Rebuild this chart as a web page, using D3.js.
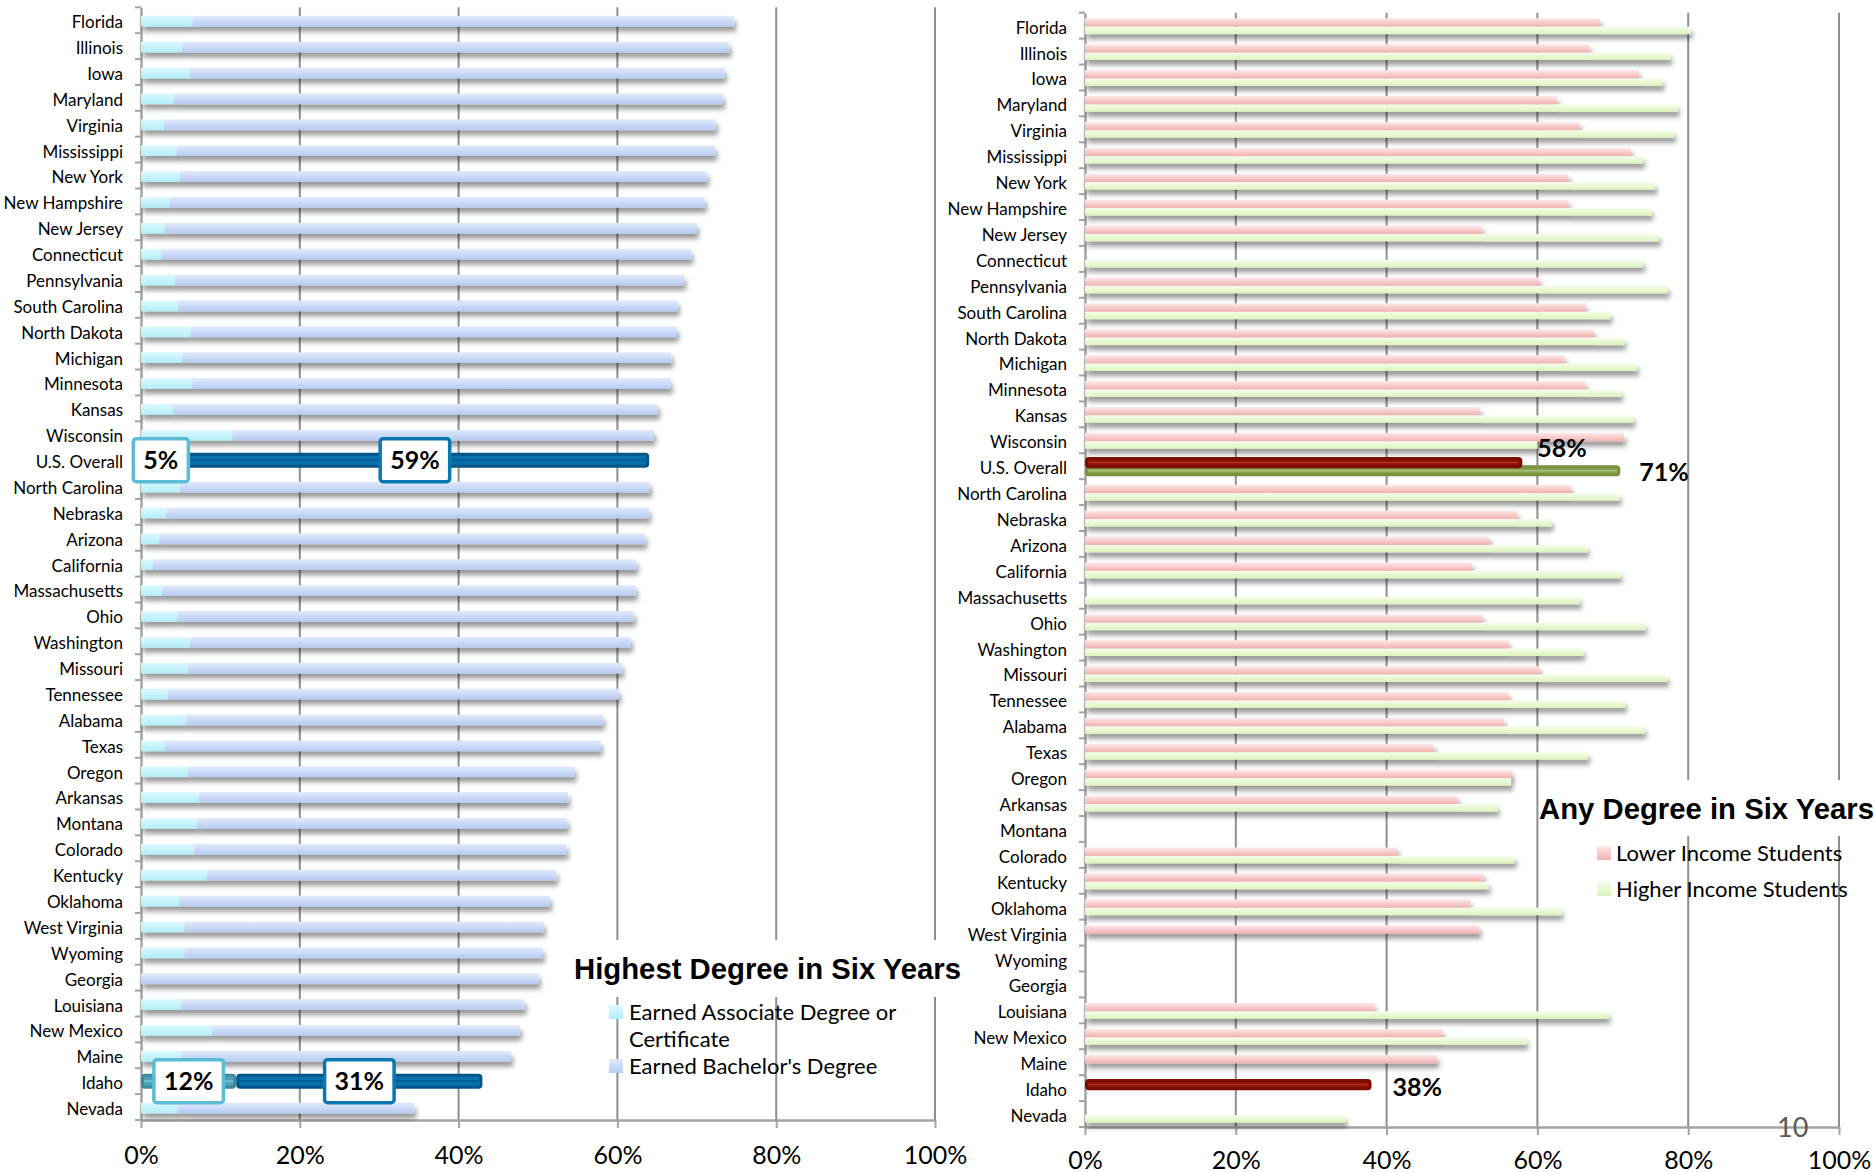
<!DOCTYPE html>
<html>
<head>
<meta charset="utf-8">
<script src="https://cdn.jsdelivr.net/npm/d3@7"></script>
<style>
  html, body { margin: 0; padding: 0; background: #fff; }
  svg { display: block; }
  svg text { font-family: Lato, "Open Sans", sans-serif; }
  svg text.title { font-family: "Liberation Sans", Arial, sans-serif; font-weight: bold; }
</style>
</head>
<body>
<svg id="chart" width="1874" height="1173"></svg>
<script>
// States in display order (top to bottom)
const states = [
  "Florida", "Illinois", "Iowa", "Maryland", "Virginia", "Mississippi", "New York",
  "New Hampshire", "New Jersey", "Connecticut", "Pennsylvania", "South Carolina",
  "North Dakota", "Michigan", "Minnesota", "Kansas", "Wisconsin", "U.S. Overall",
  "North Carolina", "Nebraska", "Arizona", "California", "Massachusetts", "Ohio",
  "Washington", "Missouri", "Tennessee", "Alabama", "Texas", "Oregon", "Arkansas",
  "Montana", "Colorado", "Kentucky", "Oklahoma", "West Virginia", "Wyoming", "Georgia",
  "Louisiana", "New Mexico", "Maine", "Idaho", "Nevada"
];

// Highest degree in six years (percent of students)
const associateShare = [
  6.5, 5.2, 6.2, 4.1, 2.9, 4.5, 4.9, 3.6, 3.0, 2.6, 4.3, 4.7, 6.3, 5.2, 6.5, 4.1, 11.5, 5,
  4.9, 3.2, 2.3, 1.5, 2.7, 4.6, 6.2, 5.9, 3.4, 5.7, 3.0, 5.9, 7.3, 7.1, 6.7, 8.3, 4.8,
  5.5, 5.5, 0, 5.1, 9.0, 5.1, 12, 4.6
];
const bachelorShare = [
  68.2, 68.9, 67.3, 69.2, 69.5, 67.8, 66.4, 67.4, 67.0, 66.7, 64.1, 62.9, 61.2, 61.6,
  60.2, 61.0, 53.1, 59, 59.2, 60.8, 61.2, 60.9, 59.6, 57.5, 55.5, 54.7, 56.8, 52.5, 54.9,
  48.7, 46.5, 46.6, 46.9, 44.0, 46.7, 45.2, 45.1, 50.1, 43.2, 38.7, 41.5, 31, 29.8
];

// Any degree in six years by income (null = not reported)
const lowerIncomeShare = [
  68.3, 66.9, 73.5, 62.6, 65.6, 72.4, 64.1, 64.1, 52.7, null, 60.3, 66.4, 67.5, 63.6,
  66.4, 52.4, 71.5, 58, 64.4, 57.3, 53.7, 51.3, null, 52.7, 56.2, 60.3, 56.2, 55.6, 46.3,
  56.6, 49.4, null, 41.5, 52.9, 51.1, 52.3, null, null, 38.4, 47.4, 46.7, 38, null
];
const higherIncomeShare = [
  80.3, 77.6, 76.6, 78.6, 78.1, 74.0, 75.6, 75.1, 76.1, 74.0, 77.3, 69.7, 71.5, 73.2,
  71.1, 72.7, 60.0, 71, 70.9, 61.9, 66.6, 71.0, 65.6, 74.3, 66.1, 77.2, 71.6, 74.2, 66.7,
  56.5, 54.7, null, 57.0, 53.5, 63.2, null, null, null, 69.4, 58.5, null, null, 34.5
];

const xTickValues = [0, 20, 40, 60, 80, 100];
const highlightedRows = ["U.S. Overall", "Idaho"];

const degreeTitle = "Highest Degree in Six Years";
const degreeLegend = [["Earned Associate Degree or", "Certificate"], ["Earned Bachelor's Degree"]];
const incomeTitle = "Any Degree in Six Years";
const incomeLegend = ["Lower Income Students", "Higher Income Students"];
const pageNumber = "10";

const svg = d3.select("#chart");
const defs = svg.append("defs");

function vGrad(id, top, bottom) {
  const g = defs.append("linearGradient").attr("id", id)
    .attr("x1", 0).attr("y1", 0).attr("x2", 0).attr("y2", 1);
  g.append("stop").attr("offset", "0%").attr("stop-color", top);
  g.append("stop").attr("offset", "100%").attr("stop-color", bottom);
}
vGrad("gAssoc", "#dcf9fe", "#b2edf8");
vGrad("gBach", "#e1eafb", "#b5cbf2");
vGrad("gLow", "#fde9e9", "#f2afaf");
vGrad("gHigh", "#f5fdea", "#dbf4bc");

const shadow = defs.append("filter").attr("id", "shadow")
  .attr("x", "-5%").attr("y", "-60%").attr("width", "115%").attr("height", "280%");
shadow.append("feDropShadow").attr("dx", 2).attr("dy", 5).attr("stdDeviation", 2.5)
  .attr("flood-color", "#000").attr("flood-opacity", 0.4);

const AXIS = "#a3a3a3", GRID = "#8e8e8e";

function panel(cfg) {
  const x = d3.scaleLinear().domain([0, 100]).range([cfg.x0, cfg.x1]);
  const y = d3.scaleBand().domain(states).range([cfg.yTop, cfg.yBot]);
  const g = svg.append("g");

  g.append("g").selectAll("line")
    .data(xTickValues.filter(v => v > 0)).join("line")
    .attr("x1", d => x(d)).attr("x2", d => x(d))
    .attr("y1", cfg.yTop).attr("y2", cfg.yBot)
    .attr("stroke", GRID).attr("stroke-width", 2);

  const xa = g.append("g").attr("transform", `translate(0,${cfg.yBot})`)
    .call(d3.axisBottom(x).tickValues(xTickValues).tickFormat(d => d + "%")
      .tickSize(8).tickSizeOuter(0).tickPadding(cfg.tickPad));
  xa.select(".domain").attr("stroke", AXIS).attr("stroke-width", 2.5);
  xa.selectAll(".tick line").attr("stroke", AXIS).attr("stroke-width", 2);
  xa.selectAll(".tick text").attr("font-size", 25).attr("fill", "#000");

  const ya = g.append("g").attr("transform", `translate(${cfg.x0},0)`)
    .call(d3.axisLeft(y).tickSize(0).tickSizeOuter(0).tickPadding(18));
  ya.select(".domain").attr("stroke", AXIS).attr("stroke-width", 2.5);
  ya.selectAll(".tick text").attr("font-size", 17).attr("fill", "#000").attr("y", 2.5);

  g.append("g").selectAll("line")
    .data(states.map(s => y(s)).concat([cfg.yBot])).join("line")
    .attr("x1", cfg.x0 - 6).attr("x2", cfg.x0)
    .attr("y1", d => d).attr("y2", d => d)
    .attr("stroke", AXIS).attr("stroke-width", 2);

  return { x, y, g };
}

// ---------- Left panel: highest degree ----------
const L = panel({ x0: 141, x1: 935, yTop: 7.3, yBot: 1120, tickPad: 18 });
const lbw = L.y.bandwidth();
const degreeRows = states.map((s, i) => ({ s, a: associateShare[i], b: bachelorShare[i] }));

const lBars = L.g.append("g");
degreeRows.filter(d => !highlightedRows.includes(d.s)).forEach(d => {
  const cy = L.y(d.s) + lbw / 2 + 1;
  const row = lBars.append("g").attr("filter", "url(#shadow)");
  if (d.a > 0) row.append("rect")
    .attr("x", L.x(0)).attr("width", L.x(d.a) - L.x(0))
    .attr("y", cy - 5.35).attr("height", 10.7).attr("fill", "url(#gAssoc)");
  row.append("rect")
    .attr("x", L.x(d.a)).attr("width", L.x(d.a + d.b) - L.x(d.a))
    .attr("y", cy - 5.35).attr("height", 10.7).attr("fill", "url(#gBach)");
});

degreeRows.filter(d => highlightedRows.includes(d.s)).forEach(d => {
  const cy = L.y(d.s) + lbw / 2;
  const row = lBars.append("g");
  row.append("rect")
    .attr("x", L.x(0) + 1.5).attr("width", L.x(d.a) - L.x(0) - 3)
    .attr("y", cy - 6).attr("height", 12).attr("rx", 2.5)
    .attr("fill", "#4e9fb4").attr("stroke", "#3b8aa0").attr("stroke-width", 3);
  row.append("line")
    .attr("x1", L.x(0) + 3).attr("x2", L.x(d.a) - 3).attr("y1", cy).attr("y2", cy)
    .attr("stroke", "#6fc0d3").attr("stroke-width", 2);
  row.append("rect")
    .attr("x", L.x(d.a) + 1.5).attr("width", L.x(d.a + d.b) - L.x(d.a) - 3)
    .attr("y", cy - 6).attr("height", 12).attr("rx", 2.5)
    .attr("fill", "#0a72aa").attr("stroke", "#005688").attr("stroke-width", 3);
  row.append("line")
    .attr("x1", L.x(d.a) + 4).attr("x2", L.x(d.a + d.b) - 4).attr("y1", cy).attr("y2", cy)
    .attr("stroke", "#00609a").attr("stroke-width", 2.5);

  // value boxes centred on each segment
  [[d.a / 2, d.a, "#5bbcd5"], [d.a + d.b / 2, d.b, "#0b77b1"]].forEach(([mid, v, col]) => {
    const box = row.append("g").attr("transform", `translate(${L.x(mid)},${cy})`);
    const r = box.append("rect");
    const t = box.append("text").text(v + "%")
      .attr("text-anchor", "middle").attr("dy", "0.36em")
      .attr("font-size", 25).attr("font-weight", "bold").attr("fill", "#000");
    const w = t.node().getComputedTextLength() + 20;
    r.attr("x", -w / 2).attr("y", -21.5).attr("width", w).attr("height", 43).attr("rx", 3)
      .attr("fill", "#fff").attr("stroke", col).attr("stroke-width", 3.5);
  });
});

// ---------- Right panel: any degree by income ----------
const R = panel({ x0: 1085, x1: 1839, yTop: 12.7, yBot: 1127, tickPad: 16 });
const rbw = R.y.bandwidth();
const incomeRows = states.map((s, i) => ({ s, lo: lowerIncomeShare[i], hi: higherIncomeShare[i] }));

const rBars = R.g.append("g");
incomeRows.filter(d => !highlightedRows.includes(d.s)).forEach(d => {
  const cy = R.y(d.s) + rbw / 2;
  const row = rBars.append("g").attr("filter", "url(#shadow)");
  if (d.lo != null) row.append("rect")
    .attr("x", R.x(0)).attr("width", R.x(d.lo) - R.x(0))
    .attr("y", cy - 7.4).attr("height", 8.4).attr("fill", "url(#gLow)");
  if (d.hi != null) row.append("rect")
    .attr("x", R.x(0)).attr("width", R.x(d.hi) - R.x(0))
    .attr("y", cy + 1).attr("height", 7.4).attr("fill", "url(#gHigh)");
});

// value label placement relative to bar end / band centre
const incomeLabelOffset = { "U.S. Overall|lo": [15, -18], "U.S. Overall|hi": [19, 6], "Idaho|lo": [21, -1] };
incomeRows.filter(d => highlightedRows.includes(d.s)).forEach(d => {
  const cy = R.y(d.s) + rbw / 2;
  const row = rBars.append("g");
  if (d.hi != null) {
    row.append("rect")
      .attr("x", R.x(0) + 1.5).attr("width", R.x(d.hi) - R.x(0) - 3)
      .attr("y", cy + 0.5).attr("height", 8).attr("rx", 2.5)
      .attr("fill", "#8aa352").attr("stroke", "#76923c").attr("stroke-width", 3);
    row.append("line")
      .attr("x1", R.x(0) + 3).attr("x2", R.x(d.hi) - 4).attr("y1", cy + 4.5).attr("y2", cy + 4.5)
      .attr("stroke", "#a9c27a").attr("stroke-width", 1.5);
  }
  if (d.lo != null) {
    row.append("rect")
      .attr("x", R.x(0) + 1.5).attr("width", R.x(d.lo) - R.x(0) - 3)
      .attr("y", cy - 7.7).attr("height", 8.2).attr("rx", 2.5)
      .attr("fill", "#8e1204").attr("stroke", "#7c0c00").attr("stroke-width", 3);
    row.append("line")
      .attr("x1", R.x(0) + 3).attr("x2", R.x(d.lo) - 4).attr("y1", cy - 3.6).attr("y2", cy - 3.6)
      .attr("stroke", "#b0311e").attr("stroke-width", 1.5);
  }
  [["lo", d.lo], ["hi", d.hi]].forEach(([k, v]) => {
    if (v == null) return;
    const [dx, dy] = incomeLabelOffset[d.s + "|" + k];
    row.append("text").text(v + "%")
      .attr("x", R.x(v) + dx).attr("y", cy + dy).attr("dy", "0.36em")
      .attr("font-size", 25).attr("font-weight", "bold").attr("fill", "#000");
  });
});

// ---------- Legends ----------
const lt = svg.append("g");
lt.append("rect").attr("x", 568).attr("y", 940).attr("width", 400).attr("height", 57).attr("fill", "#fff");
lt.append("text").attr("class", "title").text(degreeTitle)
  .attr("x", 574).attr("y", 969).attr("dy", "0.35em").attr("font-size", 29.3).attr("fill", "#000");
const degreeSwatch = ["url(#gAssoc)", "url(#gBach)"];
const degreeItemY = [1012, 1066];
degreeLegend.forEach((lines, i) => {
  lt.append("rect").attr("x", 609).attr("y", degreeItemY[i] - 7).attr("width", 14).attr("height", 14)
    .attr("fill", degreeSwatch[i]);
  lines.forEach((ln, j) => {
    lt.append("text").text(ln).attr("x", 629).attr("y", degreeItemY[i] + j * 27)
      .attr("dy", "0.35em").attr("font-size", 22).attr("fill", "#000");
  });
});

const rt = svg.append("g");
rt.append("rect").attr("x", 1539).attr("y", 780).attr("width", 335).attr("height", 56).attr("fill", "#fff");
rt.append("text").attr("class", "title").text(incomeTitle)
  .attr("x", 1539).attr("y", 809).attr("dy", "0.35em").attr("font-size", 29.3).attr("fill", "#000");
const incomeSwatch = ["url(#gLow)", "url(#gHigh)"];
incomeLegend.forEach((ln, i) => {
  const cy = 853 + i * 36;
  rt.append("rect").attr("x", 1597).attr("y", cy - 7).attr("width", 14).attr("height", 14)
    .attr("fill", incomeSwatch[i]);
  rt.append("text").text(ln).attr("x", 1616).attr("y", cy)
    .attr("dy", "0.35em").attr("font-size", 22).attr("fill", "#000");
});

svg.append("text").text(pageNumber)
  .attr("x", 1777).attr("y", 1137).attr("font-size", 27).attr("fill", "#595959");
</script>
</body>
</html>
